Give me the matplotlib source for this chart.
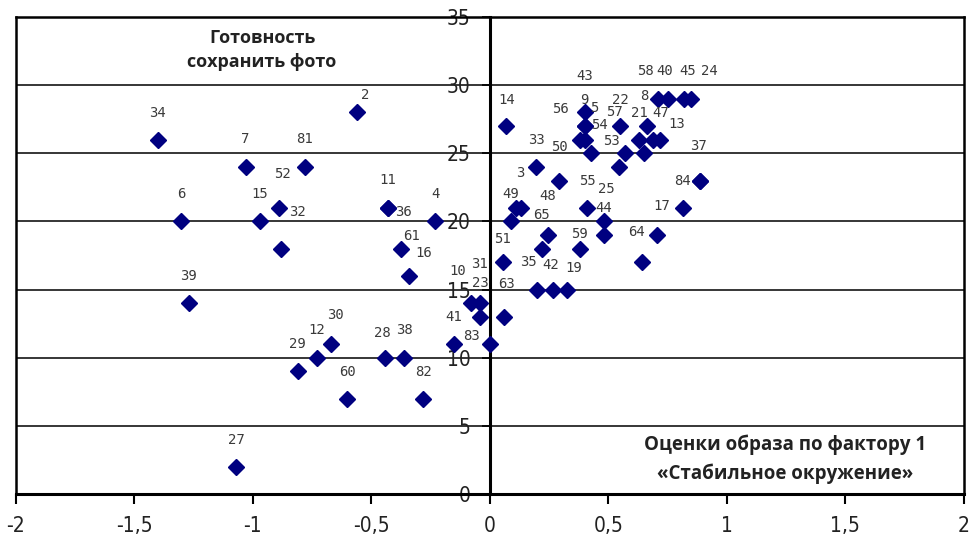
import matplotlib.pyplot as plt
from matplotlib.ticker import FuncFormatter, MultipleLocator

# оценки по фактору 1 (ось X) и готовность сохранить фото (ось Y)
xs = [-1.40, -0.56, -1.03, -0.78, -0.89, -0.88, -1.30, -0.97, -0.43, -0.43,
      -0.375, -0.34, -0.23, -1.27, -1.07, -0.81, -0.73, -0.67, -0.60, -0.44,
      -0.36, -0.28, -0.15, 0.0, -0.08, -0.04, -0.04,
      0.07, 0.40, 0.40, 0.40, 0.38, 0.40, 0.425, 0.55, 0.57, 0.545,
      0.71, 0.75, 0.82, 0.85, 0.665, 0.63, 0.69, 0.72, 0.65, 0.195,
      0.29, 0.885, 0.885, 0.41, 0.48, 0.48, 0.815, 0.09, 0.11, 0.13,
      0.245, 0.22, 0.055, 0.38, 0.705, 0.64, 0.20, 0.265, 0.325, 0.06]
ys = [26, 28, 24, 24, 21, 18, 20, 20, 21, 21,
      18, 16, 20, 14, 2, 9, 10, 11, 7, 10,
      10, 7, 11, 11, 14, 14, 13,
      27, 28, 27, 27, 26, 26, 25, 27, 25, 24,
      29, 29, 29, 29, 27, 26, 26, 26, 25, 24,
      23, 23, 23, 21, 20, 19, 21, 20, 21, 21,
      19, 18, 17, 18, 19, 17, 15, 15, 15, 13]
nums = ["34", "2", "7", "81", "52", "32", "6", "15", "11", "36",
        "61", "16", "4", "39", "27", "29", "12", "30", "60", "28",
        "38", "82", "41", "83", "10", "31", "23",
        "14", "43", "9", "5", "56", "50", "54", "22", "57", "53",
        "58", "40", "45", "24", "8", "21", "13", "47", "", "33",
        "3", "84", "37", "55", "25", "44", "17", "49", "", "",
        "48", "65", "51", "59", "64", "", "35", "42", "19", "63"]

# сдвиг подписей относительно маркера, пиксели
offs = [(0, 27), (8, 17), (0, 28), (0, 28), (4, 34), (16, 37), (0, 27), (0, 27), (0, 28), (16, -4),
        (11, 13), (15, 23), (0, 27), (0, 27), (0, 27), (0, 27), (0, 28), (5, 29), (0, 27), (-3, 25),
        (0, 28), (0, 27), (0, 27), (-18, 8), (-13, 32), (-1, 39), (0, 34),
        (0, 26), (0, 36), (0, 26), (10, 18), (-19, 31), (-25, -7), (9, 28), (0, 26), (-10, 41), (-8, 26),
        (-13, 28), (-3, 28), (3, 28), (18, 28), (-3, 30), (0, 27), (23, 16), (0, 27), (0, 0), (0, 27),
        (-38, 8), (-17, 0), (-1, 35), (0, 27), (3, 32), (0, 27), (-21, 2), (0, 27), (0, 0), (0, 0),
        (0, 39), (0, 34), (0, 23), (0, 15), (-20, 3), (0, 0), (-9, 28), (-2, 25), (7, 22), (3, 33)]

bold_font = ["Open Sans", "DejaVu Sans"]

fig = plt.figure(figsize=(9.73, 5.45), dpi=100)
ax = fig.add_axes([15.5 / 973, 51 / 545, 948.5 / 973, 477 / 545])

ax.set_xlim(-2, 2)
ax.set_ylim(0, 35)

# горизонтальные линии сетки
for yv in range(5, 36, 5):
    ax.axhline(yv, color="black", lw=1.1, zorder=1)

ax.plot(xs, ys, linestyle="none", marker="D", markersize=8,
        color="#000080", zorder=3)

for x, y, n, (dx, dy) in zip(xs, ys, nums, offs):
    if n:
        ax.annotate(n, (x, y), xytext=(dx, dy), textcoords="offset pixels",
                    ha="center", va="center", fontsize=10,
                    family="DejaVu Sans Mono", color="#3a3a3a", zorder=4)

# оси: вертикальная через ноль, рамка вокруг
ax.spines["left"].set_position(("data", 0))
ax.spines["left"].set_linewidth(2.2)
ax.spines["bottom"].set_linewidth(2.2)
ax.spines["top"].set_linewidth(1.8)
ax.spines["right"].set_linewidth(1.8)
ax.axvline(-2, color="black", lw=1.8, clip_on=False, zorder=2)

ax.xaxis.set_major_locator(MultipleLocator(0.5))
ax.yaxis.set_major_locator(MultipleLocator(5))
fmt = FuncFormatter(lambda v, p: ("%g" % v).replace(".", ","))
ax.xaxis.set_major_formatter(fmt)
ax.yaxis.set_major_formatter(fmt)
ax.tick_params(axis="x", direction="out", length=7, width=1.5, pad=9,
               labelsize=15, labelcolor="#222222")
ax.tick_params(axis="y", direction="out", length=6, width=1.2, pad=8,
               labelsize=15, labelcolor="#222222")
for lab in ax.get_xticklabels() + ax.get_yticklabels():
    lab.set_family("DejaVu Sans")
    lab.set_stretch("condensed")

ax.text(-0.96, 32.6, "Готовность\nсохранить фото", ha="center", va="center",
        fontsize=13, fontweight="bold", family=bold_font,
        color="#222222", linespacing=1.4)
ax.text(1.246, 2.55, "Оценки образа по фактору 1\n«Стабильное окружение»",
        ha="center", va="center", fontsize=13.5, fontweight="bold",
        family=bold_font, color="#222222", linespacing=1.55)

fig.savefig("out.png", dpi=100)
